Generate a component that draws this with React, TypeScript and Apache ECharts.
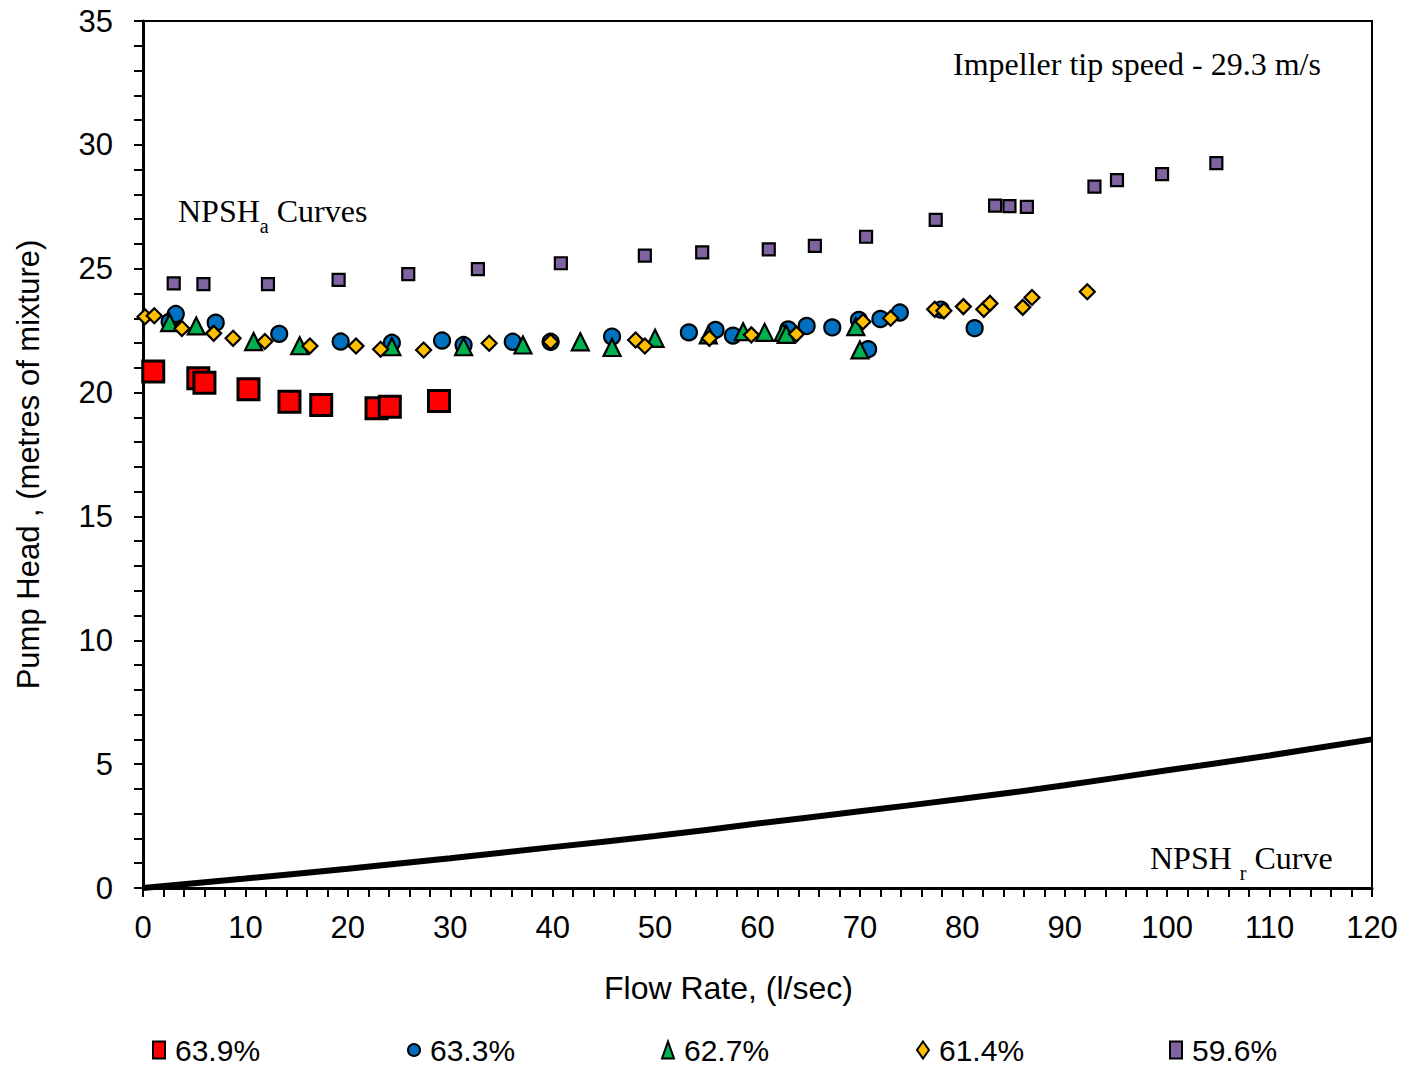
import React, { useEffect, useRef } from "react";
import * as echarts from "echarts";

// Flow rate (l/sec) and pump head (m of mixture) for each concentration
const flow639 = [1.0, 5.4, 6.0, 10.3, 14.3, 17.4, 22.8, 24.1, 28.9];
const head639 = [20.85, 20.58, 20.4, 20.13, 19.63, 19.5, 19.37, 19.43, 19.66];

const flow633 = [2.6, 3.2, 7.1, 13.3, 19.3, 24.3, 29.2, 31.3, 36.1, 39.8, 45.8, 53.3, 55.9, 57.6, 63.0, 64.8, 67.3, 69.9, 70.8, 72.0, 73.9, 77.9, 81.2];
const head633 = [22.86, 23.17, 22.82, 22.37, 22.06, 22.01, 22.1, 21.92, 22.05, 22.05, 22.26, 22.43, 22.53, 22.3, 22.55, 22.69, 22.63, 22.93, 21.75, 22.97, 23.23, 23.35, 22.6];

const flow627 = [2.6, 5.2, 10.8, 15.3, 24.3, 31.3, 37.1, 42.7, 45.8, 50.0, 55.2, 58.6, 60.7, 62.5, 62.8, 69.6, 70.0];
const head627 = [22.82, 22.69, 22.06, 21.89, 21.85, 21.85, 21.92, 22.05, 21.82, 22.19, 22.33, 22.46, 22.43, 22.43, 22.35, 22.66, 21.72];

const flow614 = [0.2, 1.1, 3.8, 6.9, 8.8, 11.9, 16.3, 20.8, 23.2, 27.4, 33.8, 39.8, 48.1, 49.0, 55.3, 59.4, 63.8, 70.3, 73.0, 77.3, 78.2, 80.1, 82.1, 82.7, 85.9, 86.8, 92.2];
const head614 = [23.06, 23.1, 22.59, 22.39, 22.19, 22.06, 21.88, 21.88, 21.75, 21.72, 21.99, 22.05, 22.12, 21.88, 22.19, 22.33, 22.36, 22.86, 23.0, 23.36, 23.3, 23.47, 23.36, 23.6, 23.44, 23.84, 24.07];

const flow596 = [3.0, 5.9, 12.2, 19.1, 25.9, 32.7, 40.8, 49.0, 54.6, 61.1, 65.6, 70.6, 77.4, 83.2, 84.6, 86.3, 92.9, 95.1, 99.5, 104.8];
const head596 = [24.41, 24.38, 24.38, 24.55, 24.78, 24.98, 25.22, 25.53, 25.66, 25.78, 25.92, 26.29, 26.97, 27.55, 27.53, 27.5, 28.31, 28.58, 28.82, 29.26];

// Required NPSH curve
const npshrFlow = [0, 10, 20, 30, 40, 50, 60, 70, 80, 90, 100, 110, 120];
const npshrHead = [0, 0.38, 0.78, 1.2, 1.65, 2.1, 2.6, 3.1, 3.6, 4.15, 4.75, 5.35, 6.0];

const seriesNames = ["63.9%", "63.3%", "62.7%", "61.4%", "59.6%"];

const pairs = (xs: number[], ys: number[]) => xs.map((x, i) => [x, ys[i]]);

const SANS = "'Liberation Sans', Arial, sans-serif";
const SERIF = "'Liberation Serif', 'Times New Roman', serif";

export default function App() {
  const ref = useRef<HTMLDivElement>(null);

  useEffect(() => {
    if (!ref.current) return;
    const chart = echarts.init(ref.current, undefined, { renderer: "svg" });

    const scatter = (
      name: string,
      xs: number[],
      ys: number[],
      symbol: string,
      size: number,
      color: string,
      border: number
    ) => ({
      name,
      type: "scatter",
      data: pairs(xs, ys),
      symbol,
      symbolSize: size,
      itemStyle: { color, borderColor: "#000", borderWidth: border, opacity: 1 },
      emphasis: { disabled: true },
    });

    const legendLefts = [152, 407, 661, 916, 1169];

    const subRich = {
      m: { fontSize: 32, fontFamily: SERIF, fill: "#000", verticalAlign: "bottom" },
      s: { fontSize: 20, fontFamily: SERIF, fill: "#000", verticalAlign: "bottom", padding: [0, 0, -9, 0] },
    };

    chart.setOption({
      animation: false,
      backgroundColor: "#fff",
      grid: {
        left: 143,
        right: 35,
        top: 21,
        bottom: 180,
        show: true,
        borderColor: "#000",
        borderWidth: 2,
        backgroundColor: "transparent",
      },
      xAxis: {
        type: "value",
        min: 0,
        max: 120,
        interval: 10,
        axisLine: { show: true, lineStyle: { color: "#000", width: 3 } },
        axisTick: { show: true, inside: false, length: 9, lineStyle: { color: "#000", width: 2 } },
        minorTick: { show: true, splitNumber: 5, length: 9, lineStyle: { color: "#000", width: 2 } },
        splitLine: { show: false },
        axisLabel: { margin: 24, fontSize: 31, color: "#000", fontFamily: SANS },
      },
      yAxis: {
        type: "value",
        min: 0,
        max: 35,
        interval: 5,
        name: "Pump Head , (metres of mixture)",
        nameLocation: "middle",
        nameGap: 99,
        nameTextStyle: { fontSize: 31, color: "#000", fontFamily: SANS, padding: [0, 20, 0, 0] },
        axisLine: { show: true, lineStyle: { color: "#000", width: 3 } },
        axisTick: { show: true, inside: false, length: 9, lineStyle: { color: "#000", width: 2 } },
        minorTick: { show: true, splitNumber: 5, length: 9, lineStyle: { color: "#000", width: 2 } },
        splitLine: { show: false },
        axisLabel: { margin: 30, fontSize: 31, color: "#000", fontFamily: SANS },
      },
      legend: seriesNames.map((n, i) => ({
        data: [n],
        left: legendLefts[i],
        top: 1035,
        itemWidth: 12,
        itemHeight: 17,
        itemGap: 6,
        padding: 0,
        selectedMode: false,
        textStyle: { fontSize: 30, lineHeight: 30, color: "#000", fontFamily: SANS, padding: [0, 0, 0, 5] },
        itemStyle: { borderColor: "#000", borderWidth: 2 },
      })),
      series: [
        {
          name: "NPSHr",
          type: "line",
          data: pairs(npshrFlow, npshrHead),
          smooth: true,
          showSymbol: false,
          lineStyle: { color: "#000", width: 6 },
          z: 1,
        },
        scatter(seriesNames[0], flow639, head639, "rect", 21, "#FF0000", 3),
        scatter(seriesNames[1], flow633, head633, "circle", 16, "#0070C0", 2.2),
        scatter(seriesNames[2], flow627, head627, "triangle", 17, "#00B050", 2.2),
        scatter(seriesNames[3], flow614, head614, "diamond", 15, "#FFC000", 2.2),
        scatter(seriesNames[4], flow596, head596, "rect", 12, "#8064A2", 2.2),
      ],
      graphic: [
        {
          type: "text",
          left: 953,
          top: 48,
          style: { text: "Impeller tip speed - 29.3 m/s", fontSize: 32, fill: "#000", fontFamily: SERIF },
        },
        {
          type: "text",
          left: 178,
          top: 195,
          style: { text: "{m|NPSH}{s|a}{m| Curves}", fill: "#000", rich: subRich },
        },
        {
          type: "text",
          left: 1150,
          top: 842,
          style: { text: "{m|NPSH }{s|r}{m| Curve}", fill: "#000", rich: subRich },
        },
        {
          type: "text",
          left: 604,
          top: 972,
          style: { text: "Flow Rate, (l/sec)", fontSize: 32, fill: "#000", fontFamily: SANS },
        },
      ],
    });

    return () => chart.dispose();
  }, []);

  return (
    <div
      ref={ref}
      style={{ position: "fixed", left: 0, top: 0, width: 1407, height: 1068, background: "#fff" }}
    />
  );
}
